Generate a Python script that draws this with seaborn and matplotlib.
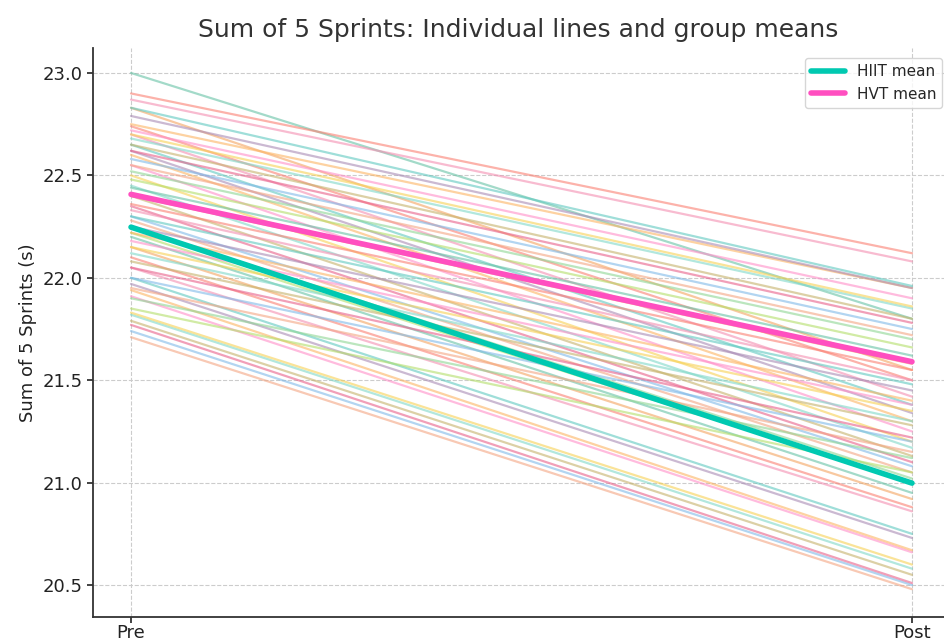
import pandas as pd
import seaborn as sns
import matplotlib.pyplot as plt

# sum of 5 sprints (s), one pair of values per subject
hiit_pre = [21.71, 21.74, 21.77, 21.79, 21.82, 21.83, 21.91, 21.94, 21.97, 22.00,
            22.05, 22.10, 22.15, 22.20, 22.22, 22.25, 22.28, 22.30, 22.35, 22.40,
            22.45, 22.50, 22.55, 22.60, 22.62, 22.65, 22.70, 22.74, 22.83, 23.00]
hiit_post = [20.48, 20.50, 20.51, 20.55, 20.58, 20.60, 20.66, 20.67, 20.73, 20.75,
             20.86, 20.88, 20.92, 20.95, 21.00, 21.02, 21.05, 21.08, 21.10, 21.13,
             21.17, 21.20, 21.25, 21.30, 21.34, 21.38, 21.42, 21.50, 21.55, 21.80]
hvt_pre = [21.85, 21.90, 21.95, 22.00, 22.05, 22.08, 22.12, 22.15, 22.18, 22.22,
           22.25, 22.30, 22.33, 22.36, 22.40, 22.44, 22.48, 22.52, 22.55, 22.58,
           22.62, 22.65, 22.68, 22.70, 22.72, 22.75, 22.79, 22.83, 22.87, 22.90]
hvt_post = [21.05, 21.12, 21.15, 21.20, 21.22, 21.28, 21.30, 21.35, 21.38, 21.40,
            21.45, 21.48, 21.50, 21.55, 21.58, 21.62, 21.66, 21.70, 21.72, 21.75,
            21.78, 21.80, 21.85, 21.86, 21.90, 21.95, 21.95, 21.96, 22.08, 22.12]
times = ["Pre", "Post"]

pastel = ["#f4a582", "#66c2a5", "#f48fb1", "#fdb462", "#7fd8c8", "#80b9e8",
          "#b3de69", "#fb8072", "#a98bb5", "#f7d154", "#e8608a", "#8fd694",
          "#f4a460", "#5fc9c0", "#ff8fc8", "#c6b26b"]

rows = []
for grp, pre, post in [("HIIT", hiit_pre, hiit_post), ("HVT", hvt_pre, hvt_post)]:
    for i, (a, b) in enumerate(zip(pre, post)):
        subj = f"{grp}_{i}"
        rows.append({"Subject": subj, "Group": grp, "Time": times[0], "Value": a})
        rows.append({"Subject": subj, "Group": grp, "Time": times[1], "Value": b})
df = pd.DataFrame(rows)

# spread colours so neighbouring lines differ
subjects = list(df["Subject"].unique())
palette = {s: pastel[(i * 5) % len(pastel)] for i, s in enumerate(subjects)}

means = df.groupby(["Group", "Time"], sort=False)["Value"].mean().reset_index()

sns.set_style("white")
plt.rcParams['font.family'] = ['DejaVu Sans']
fig = plt.figure(figsize=(9.44, 6.43), dpi=100)
ax = fig.add_axes([0.0985, 0.0404, 0.9015, 0.885])

sns.lineplot(data=df, x="Time", y="Value", hue="Subject", palette=palette,
             units="Subject", estimator=None, alpha=0.6, linewidth=1.6,
             legend=False, ax=ax, sort=False)
sns.lineplot(data=means[means["Group"] == "HIIT"], x="Time", y="Value",
             color="#00c9b1", linewidth=4, label="HIIT mean", ax=ax, sort=False)
sns.lineplot(data=means[means["Group"] == "HVT"], x="Time", y="Value",
             color="#ff4fc0", linewidth=4, label="HVT mean", ax=ax, sort=False)

ax.set_xlim(-0.0487, 1.041)
ax.set_ylim(20.344, 23.122)
ax.set_yticks([20.5, 21.0, 21.5, 22.0, 22.5, 23.0])
ax.grid(True, linestyle='--', color='#cccccc', linewidth=0.8)
ax.set_axisbelow(True)
for side in ['top', 'right']:
    ax.spines[side].set_visible(False)
for side in ['left', 'bottom']:
    ax.spines[side].set_color('#333333')
    ax.spines[side].set_linewidth(1.3)
ax.tick_params(axis='y', length=4, width=1.2, labelsize=13, colors='#222222',
               direction='out', left=True)
ax.tick_params(axis='x', length=4, width=1.2, labelsize=13, colors='#222222',
               direction='out', bottom=True, pad=1)
ax.set_xlabel("")
ax.set_ylabel("Sum of 5 Sprints (s)", fontsize=13, color='#222222')
ax.set_title("Sum of 5 Sprints: Individual lines and group means", fontsize=18,
             color='#333333', pad=8)
leg = ax.legend(loc='upper right', fontsize=11, frameon=True, handlelength=2.2,
                bbox_to_anchor=(1.0, 0.985), borderaxespad=0.1)
leg.get_frame().set_edgecolor('#cccccc')

fig.savefig("out.png", dpi=100)
